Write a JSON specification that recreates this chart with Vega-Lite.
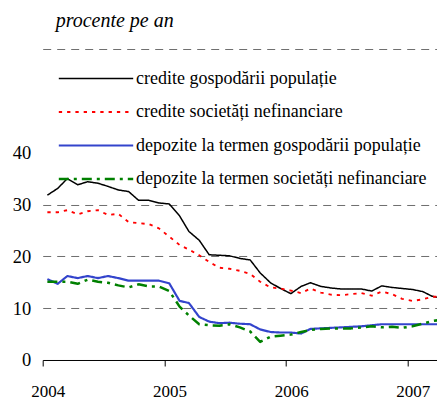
{
  "$schema": "https://vega.github.io/schema/vega-lite/v6.json",
  "width": 395,
  "height": 311,
  "autosize": "none",
  "padding": {"left": 42.7, "top": 49, "right": 0, "bottom": 40},
  "background": "white",
  "config": {"view": {"stroke": null}, "font": "Liberation Serif"},
  "title": {"text": "procente pe an", "anchor": "start", "frame": "group", "font": "Liberation Serif", "fontStyle": "italic", "fontWeight": "normal", "fontSize": 20, "color": "#000000", "dx": 13, "offset": 2, "baseline": "alphabetic"},
  "data": {"values": [
    {"date": "2004-01-15", "cgp": 31.8, "csn": 28.5, "dgp": 15.6, "dsn": 15.1},
    {"date": "2004-02-15", "cgp": 33.1, "csn": 28.5, "dgp": 14.7, "dsn": 15.1},
    {"date": "2004-03-15", "cgp": 35.0, "csn": 28.9, "dgp": 16.2, "dsn": 15.1},
    {"date": "2004-04-15", "cgp": 33.8, "csn": 28.1, "dgp": 15.8, "dsn": 14.7},
    {"date": "2004-05-15", "cgp": 34.4, "csn": 28.7, "dgp": 16.2, "dsn": 15.5},
    {"date": "2004-06-15", "cgp": 34.1, "csn": 28.9, "dgp": 15.8, "dsn": 15.1},
    {"date": "2004-07-15", "cgp": 33.5, "csn": 28.0, "dgp": 16.2, "dsn": 14.9},
    {"date": "2004-08-15", "cgp": 32.8, "csn": 28.2, "dgp": 15.8, "dsn": 14.4},
    {"date": "2004-09-15", "cgp": 32.5, "csn": 26.6, "dgp": 15.3, "dsn": 14.0},
    {"date": "2004-10-15", "cgp": 30.8, "csn": 26.4, "dgp": 15.3, "dsn": 14.6},
    {"date": "2004-11-15", "cgp": 30.8, "csn": 26.2, "dgp": 15.3, "dsn": 14.2},
    {"date": "2004-12-15", "cgp": 30.3, "csn": 25.4, "dgp": 15.3, "dsn": 14.2},
    {"date": "2005-01-15", "cgp": 30.1, "csn": 23.8, "dgp": 14.8, "dsn": 13.3},
    {"date": "2005-02-15", "cgp": 27.8, "csn": 22.2, "dgp": 11.4, "dsn": 10.3},
    {"date": "2005-03-15", "cgp": 24.8, "csn": 21.3, "dgp": 11.0, "dsn": 8.6},
    {"date": "2005-04-15", "cgp": 23.1, "csn": 20.2, "dgp": 8.3, "dsn": 6.9},
    {"date": "2005-05-15", "cgp": 20.3, "csn": 18.9, "dgp": 7.4, "dsn": 6.7},
    {"date": "2005-06-15", "cgp": 20.2, "csn": 17.8, "dgp": 7.1, "dsn": 6.6},
    {"date": "2005-07-15", "cgp": 20.1, "csn": 17.6, "dgp": 7.2, "dsn": 6.9},
    {"date": "2005-08-15", "cgp": 19.6, "csn": 17.2, "dgp": 7.0, "dsn": 6.3},
    {"date": "2005-09-15", "cgp": 19.3, "csn": 16.6, "dgp": 6.9, "dsn": 5.5},
    {"date": "2005-10-15", "cgp": 16.8, "csn": 15.1, "dgp": 5.9, "dsn": 3.5},
    {"date": "2005-11-15", "cgp": 14.9, "csn": 14.0, "dgp": 5.4, "dsn": 4.5},
    {"date": "2005-12-15", "cgp": 13.8, "csn": 13.8, "dgp": 5.3, "dsn": 4.7},
    {"date": "2006-01-15", "cgp": 12.8, "csn": 13.4, "dgp": 5.3, "dsn": 4.9},
    {"date": "2006-02-15", "cgp": 14.2, "csn": 12.9, "dgp": 5.1, "dsn": 5.4},
    {"date": "2006-03-15", "cgp": 14.9, "csn": 13.8, "dgp": 6.0, "dsn": 5.8},
    {"date": "2006-04-15", "cgp": 14.2, "csn": 13.0, "dgp": 6.1, "dsn": 6.0},
    {"date": "2006-05-15", "cgp": 13.9, "csn": 12.6, "dgp": 6.2, "dsn": 6.1},
    {"date": "2006-06-15", "cgp": 13.7, "csn": 12.5, "dgp": 6.3, "dsn": 6.1},
    {"date": "2006-07-15", "cgp": 13.7, "csn": 12.7, "dgp": 6.4, "dsn": 6.1},
    {"date": "2006-08-15", "cgp": 13.7, "csn": 12.9, "dgp": 6.5, "dsn": 6.3},
    {"date": "2006-09-15", "cgp": 13.3, "csn": 12.4, "dgp": 6.7, "dsn": 6.5},
    {"date": "2006-10-15", "cgp": 14.3, "csn": 13.2, "dgp": 6.9, "dsn": 6.3},
    {"date": "2006-11-15", "cgp": 14.0, "csn": 12.7, "dgp": 6.9, "dsn": 6.4},
    {"date": "2006-12-15", "cgp": 13.8, "csn": 11.8, "dgp": 6.9, "dsn": 6.2},
    {"date": "2007-01-15", "cgp": 13.6, "csn": 11.4, "dgp": 6.9, "dsn": 6.5},
    {"date": "2007-02-15", "cgp": 13.2, "csn": 11.7, "dgp": 6.9, "dsn": 7.0},
    {"date": "2007-03-15", "cgp": 12.3, "csn": 12.2, "dgp": 6.9, "dsn": 7.5},
    {"date": "2007-04-15", "cgp": 11.9, "csn": 12.2, "dgp": 6.9, "dsn": 7.8}
  ]},
  "transform": [{"fold": ["cgp", "csn", "dgp", "dsn"], "as": ["serie", "valoare"]}],
  "mark": {"type": "line", "clip": true, "strokeCap": "butt", "strokeJoin": "round"},
  "encoding": {
    "x": {
      "field": "date", "type": "temporal",
      "scale": {"type": "utc", "domain": [{"year": 2004, "month": 1, "date": 1, "utc": true}, {"year": 2007, "month": 4, "date": 1, "utc": true}]},
      "axis": {
        "title": null, "grid": false, "format": "%Y", "formatType": "utc",
        "values": [{"year": 2004, "month": 1, "date": 1, "utc": true}, {"year": 2005, "month": 1, "date": 1, "utc": true}, {"year": 2006, "month": 1, "date": 1, "utc": true}, {"year": 2007, "month": 1, "date": 1, "utc": true}],
        "domainColor": "#000000", "domainWidth": 1, "tickColor": "#000000", "tickSize": 6, "tickWidth": 1,
        "labelFont": "Liberation Serif", "labelFontSize": 17, "labelColor": "#000000", "labelPadding": 17.5, "labelOffset": 5,
        "labelFlush": false, "labelOverlap": false, "zindex": 1
      }
    },
    "y": {
      "field": "valoare", "type": "quantitative",
      "scale": {"domain": [0, 60], "nice": false, "zero": true},
      "axis": {
        "title": null, "values": [0, 10, 20, 30, 40, 60],
        "labelExpr": "datum.value > 40 ? '' : datum.label",
        "domain": false, "ticks": false, "labelPadding": 12,
        "labelFont": "Liberation Serif", "labelFontSize": 18.5, "labelColor": "#000000",
        "grid": true, "gridDash": [8, 6], "gridWidth": 1,
        "gridColor": {"condition": {"test": "datum.value == 0 || datum.value == 40", "value": "transparent"}, "value": "#6e6e6e"}
      }
    },
    "color": {
      "field": "serie", "type": "nominal",
      "scale": {"domain": ["cgp", "csn", "dgp", "dsn"], "range": ["#000000", "#ff0000", "#3344cc", "#008000"]},
      "legend": {
        "orient": "none", "legendX": 44.3, "legendY": 20.5, "title": null, "padding": 0,
        "symbolType": "M-6.2,0H6.2", "symbolSize": 144, "labelOffset": 31,
        "labelFont": "Liberation Serif", "labelFontSize": 18, "labelColor": "#000000", "rowPadding": 15.5,
        "labelLimit": 400,
        "labelExpr": "datum.value == 'cgp' ? 'credite gospodării populație' : datum.value == 'csn' ? 'credite societăți nefinanciare' : datum.value == 'dgp' ? 'depozite la termen gospodării populație' : 'depozite la termen societăți nefinanciare'"
      }
    },
    "strokeDash": {
      "field": "serie", "type": "nominal",
      "scale": {"domain": ["cgp", "csn", "dgp", "dsn"], "range": [[1, 0], [3.3, 5], [1, 0], [10, 5, 3, 5]]}
    },
    "strokeWidth": {
      "field": "serie", "type": "nominal",
      "scale": {"domain": ["cgp", "csn", "dgp", "dsn"], "range": [1.5, 2.5, 3.6, 2.2]}
    }
  }
}
